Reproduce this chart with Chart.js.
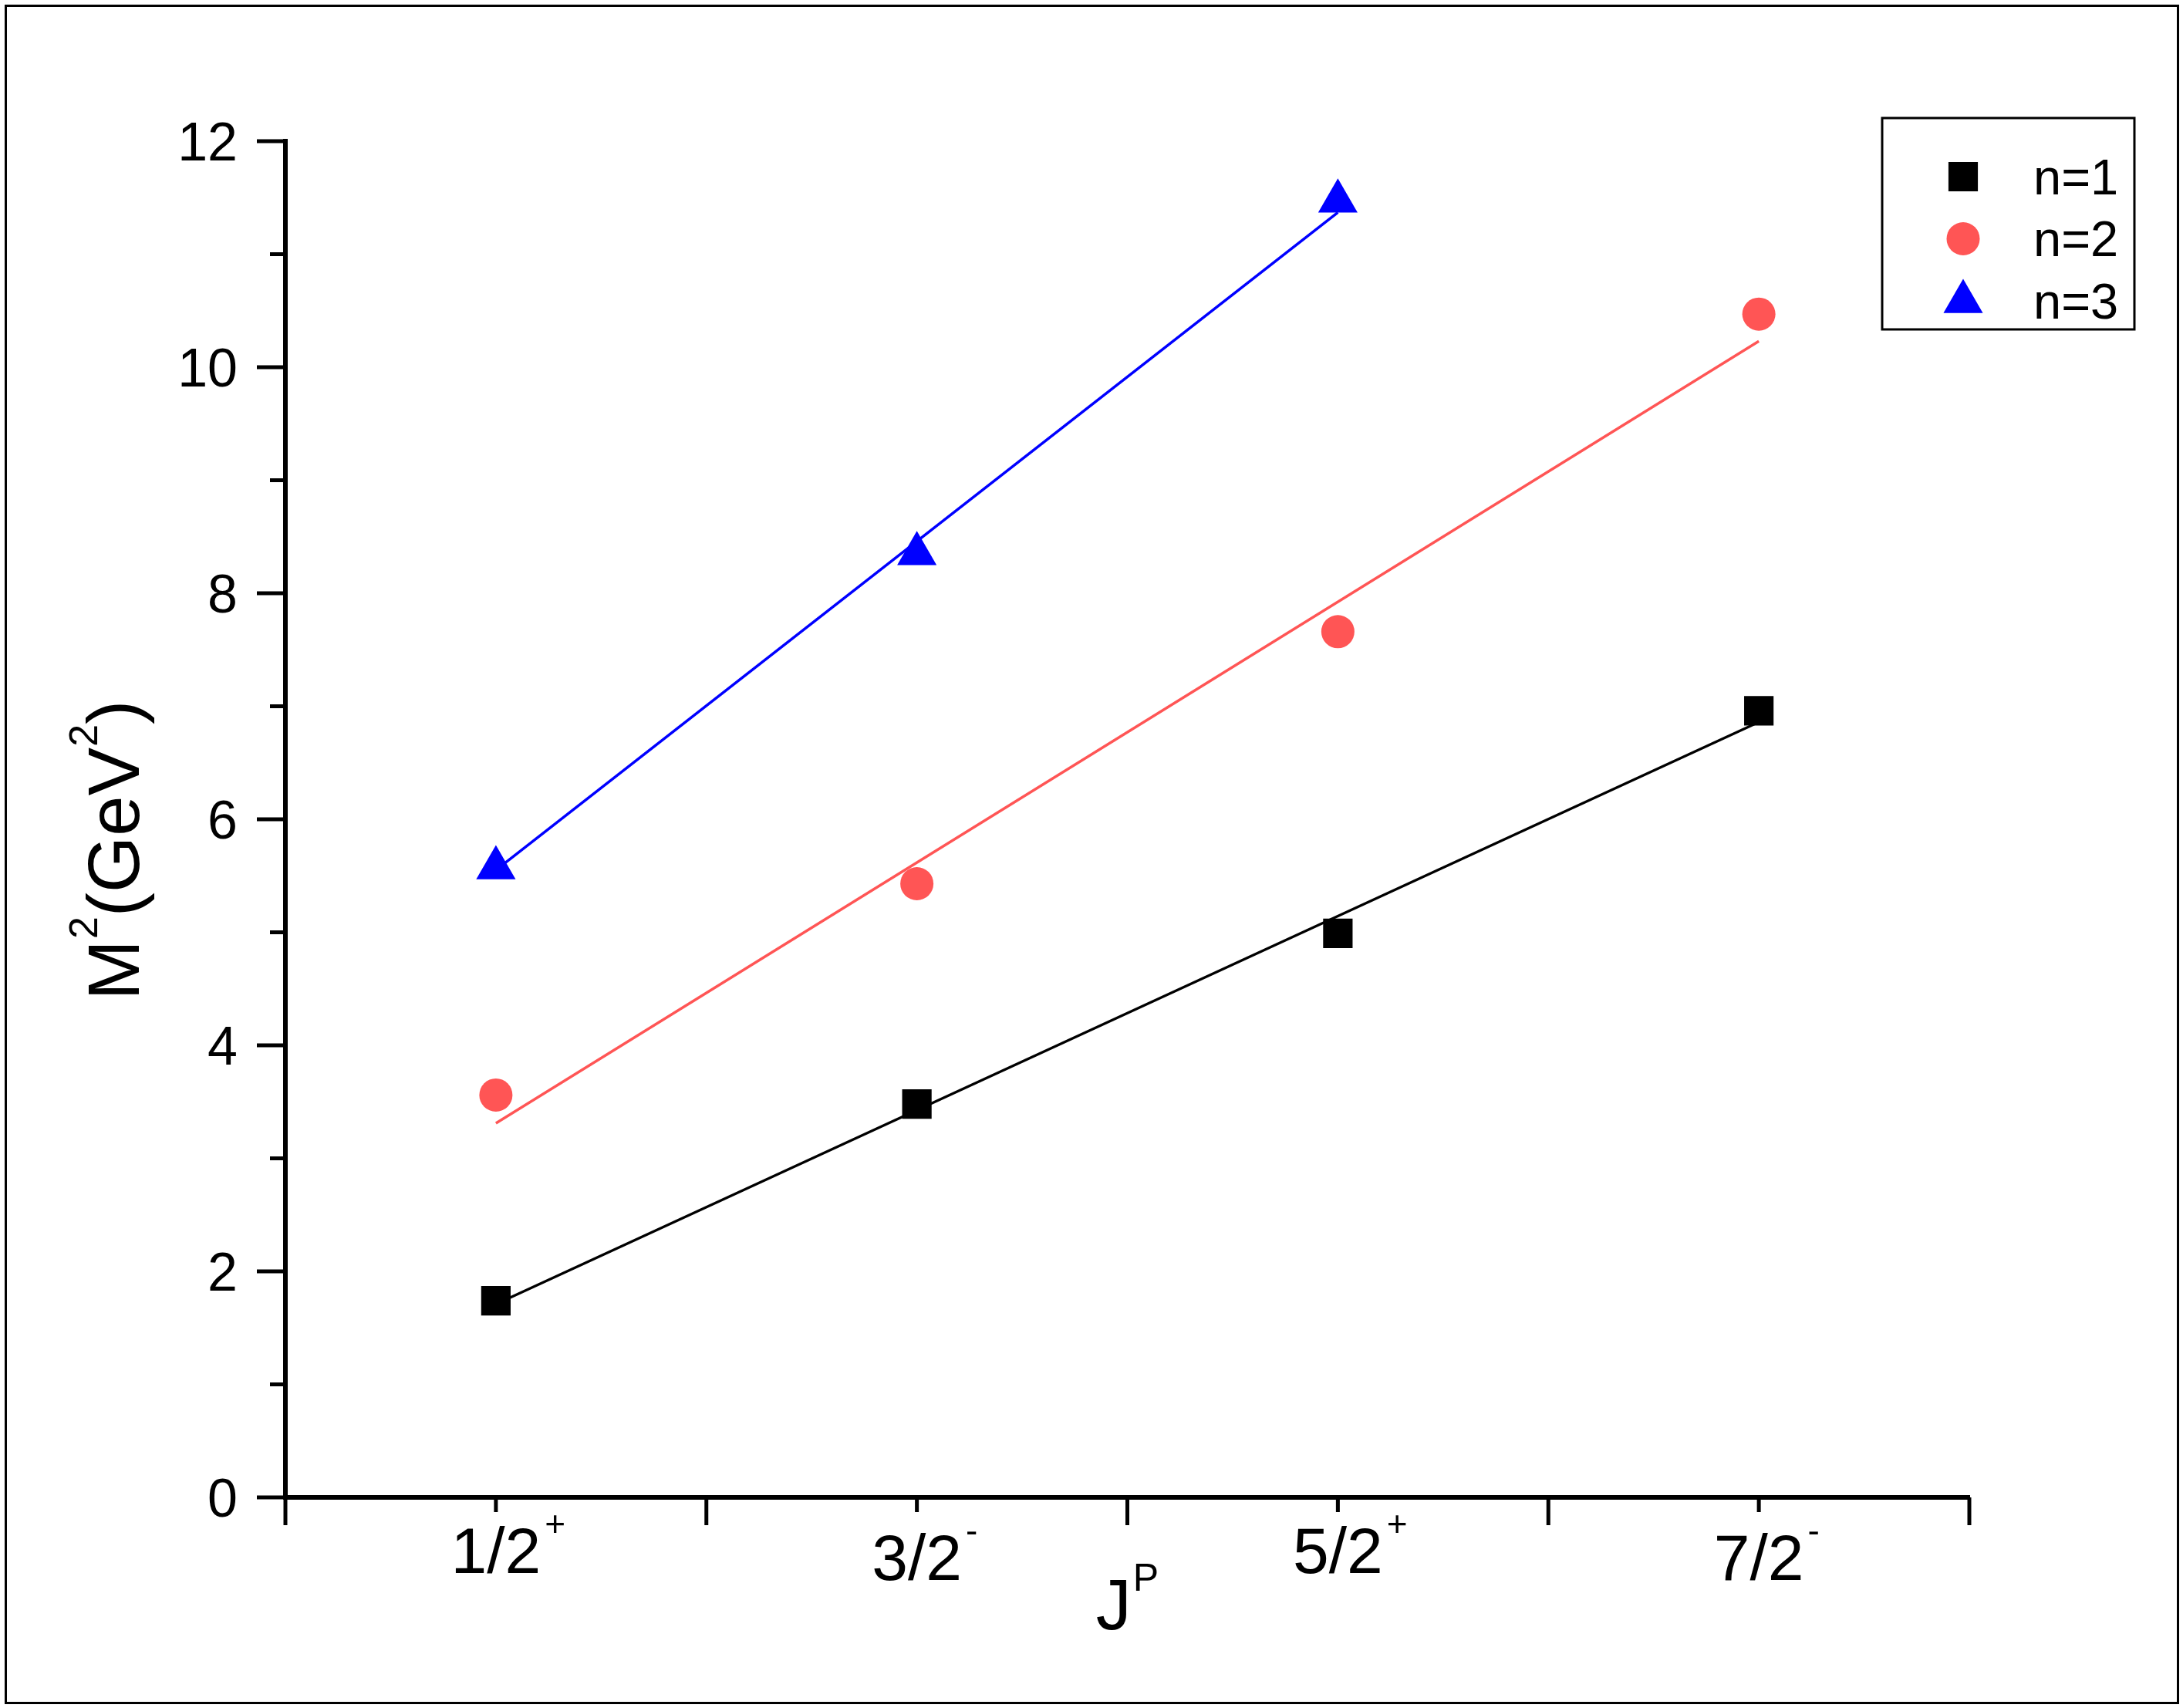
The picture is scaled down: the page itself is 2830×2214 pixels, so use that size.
<!DOCTYPE html>
<html>
<head>
<meta charset="utf-8">
<script src="https://cdn.jsdelivr.net/npm/chart.js@4.4.1/dist/chart.umd.min.js"></script>
<style>
html, body { margin: 0; padding: 0; background: #fff; }
#wrap { width: 2830px; height: 2214px; position: relative; }
</style>
</head>
<body>
<div id="wrap"><canvas id="regge"></canvas></div>
<script>
// J^P tick labels: spin part + parity superscript, at category positions
const spins = ['1/2', '3/2', '5/2', '7/2'];
const parities = ['+', '-', '+', '-'];
const jPos = [1, 2, 3, 4];

// M^2 in GeV^2
const n1 = [1.74, 3.48, 4.99, 6.96];
const n2 = [3.56, 5.43, 7.66, 10.47];
const n3 = [5.57, 8.35, 11.47];

// fitted straight lines (end points only)
const fit1X = [1, 4], fit1Y = [1.71, 6.86];
const fit2X = [1, 4], fit2Y = [3.31, 10.23];
const fit3X = [1, 3], fit3Y = [5.55, 11.37];

const yMajor = [0, 2, 4, 6, 8, 10, 12];
const yMinor = [1, 3, 5, 7, 9, 11];
const xMajor = [0.5, 1.5, 2.5, 3.5, 4.5];

const legendNames = ['n=1', 'n=2', 'n=3'];

const FONT = '"Liberation Sans", Arial, sans-serif';
const BLACK = '#000000', RED = '#FF5555', BLUE = '#0000FF';

const pts = (xs, ys) => ys.map((v, i) => ({ x: xs[i], y: v }));

const markers = [
    { pointStyle: 'rect', radius: 27, color: BLACK },
    { pointStyle: 'circle', radius: 21.5, color: RED },
    { pointStyle: 'triangle', radius: 29.5, color: BLUE }
];

function font(px) { return px + 'px ' + FONT; }

// base text followed by raised superscripts
function supText(ctx, parts, x, y) {
    let cx = x;
    parts.forEach(p => {
        ctx.font = font(p.size);
        ctx.fillText(p.text, cx, y - (p.raise || 0));
        cx += ctx.measureText(p.text).width + (p.gap || 0);
    });
}
function partsWidth(ctx, parts) {
    let w = 0;
    parts.forEach(p => {
        ctx.font = font(p.size);
        w += ctx.measureText(p.text).width + (p.gap || 0);
    });
    return w;
}

const whiteBg = {
    id: 'whiteBg',
    beforeDraw(chart) {
        const ctx = chart.ctx;
        ctx.save();
        ctx.fillStyle = '#fff';
        ctx.fillRect(0, 0, chart.width, chart.height);
        ctx.restore();
    }
};

const originAxes = {
    id: 'originAxes',
    afterDraw(chart) {
        const { ctx, chartArea: area, scales: { x, y } } = chart;
        ctx.save();
        ctx.strokeStyle = BLACK;
        ctx.fillStyle = BLACK;
        ctx.lineCap = 'butt';

        // ticks
        ctx.lineWidth = 5;
        ctx.beginPath();
        yMajor.forEach(v => {
            const py = y.getPixelForValue(v);
            ctx.moveTo(area.left - 37, py); ctx.lineTo(area.left, py);
        });
        yMinor.forEach(v => {
            const py = y.getPixelForValue(v);
            ctx.moveTo(area.left - 20, py); ctx.lineTo(area.left, py);
        });
        xMajor.forEach(v => {
            const px = x.getPixelForValue(v);
            ctx.moveTo(px, area.bottom); ctx.lineTo(px, area.bottom + 36);
        });
        jPos.forEach(v => {
            const px = x.getPixelForValue(v);
            ctx.moveTo(px, area.bottom); ctx.lineTo(px, area.bottom + 19);
        });
        ctx.stroke();

        // y tick labels
        ctx.textAlign = 'right';
        ctx.textBaseline = 'alphabetic';
        ctx.font = font(70);
        yMajor.forEach(v => {
            ctx.fillText(String(v), area.left - 62, y.getPixelForValue(v) + 25);
        });

        // x tick labels with parity superscripts
        ctx.textAlign = 'left';
        spins.forEach((s, i) => {
            const px = x.getPixelForValue(jPos[i]);
            ctx.font = font(84);
            const w = ctx.measureText(s).width;
            const base = area.bottom + (parities[i] === '+' ? 98 : 107);
            ctx.fillText(s, px - w / 2, base);
            ctx.font = font(46);
            ctx.fillText(parities[i], px + w / 2 + 5, base - 48);
        });

        // x title  J^P
        const xt = [{ text: 'J', size: 92, gap: 2 }, { text: 'P', size: 50, raise: 50 }];
        const cx = (area.left + area.right) / 2;
        supText(ctx, xt, cx - partsWidth(ctx, xt) / 2, area.bottom + 171);

        // y title  M^2(GeV^2)
        const yt = [
            { text: 'M', size: 94, gap: 1 }, { text: '2', size: 52, raise: 54 },
            { text: '(GeV', size: 94, gap: 1 }, { text: '2', size: 52, raise: 54 },
            { text: ')', size: 94 }
        ];
        ctx.save();
        ctx.translate(180, (area.top + area.bottom) / 2 + 40);
        ctx.rotate(-Math.PI / 2);
        supText(ctx, yt, -partsWidth(ctx, yt) / 2, 0);
        ctx.restore();

        // legend
        ctx.lineWidth = 3;
        ctx.strokeRect(2440, 153, 327, 274);
        const rows = [229, 309.5, 391];
        const textBase = [252, 332, 413];
        markers.forEach((m, i) => {
            ctx.fillStyle = m.color;
            Chart.helpers.drawPoint(ctx, { pointStyle: m.pointStyle, radius: m.radius, rotation: 0, borderWidth: 0 }, 2545, rows[i]);
        });
        ctx.fillStyle = BLACK;
        ctx.font = font(65);
        legendNames.forEach((t, i) => ctx.fillText(t, 2636, textBase[i]));

        // outer frame
        ctx.lineWidth = 3;
        ctx.strokeRect(7.5, 7.5, 2816, 2200);
        ctx.restore();
    }
};

const lineSet = (xs, ys, color) => ({
    data: pts(xs, ys), showLine: true, borderColor: color, borderWidth: 3.5,
    pointRadius: 0, fill: false, order: 2
});
const pointSet = (label, ys, m) => ({
    label, data: pts(jPos, ys), showLine: false, pointStyle: m.pointStyle,
    pointRadius: m.radius, pointHoverRadius: m.radius, backgroundColor: m.color,
    borderColor: m.color, pointBorderWidth: 0, order: 0
});

new Chart(document.getElementById('regge'), {
    type: 'scatter',
    data: {
        datasets: [
            pointSet('n=1', n1, markers[0]),
            pointSet('n=2', n2, markers[1]),
            pointSet('n=3', n3, markers[2]),
            lineSet(fit1X, fit1Y, BLACK),
            lineSet(fit2X, fit2Y, RED),
            lineSet(fit3X, fit3Y, BLUE)
        ]
    },
    options: {
        responsive: true,
        maintainAspectRatio: false,
        devicePixelRatio: 1,
        animation: false,
        layout: { padding: { left: 370, right: 277, top: 183, bottom: 273 } },
        plugins: { legend: { display: false }, tooltip: { enabled: false } },
        scales: {
            x: {
                type: 'linear', min: 0.5, max: 4.5,
                grid: { display: false, drawTicks: false },
                border: { display: true, color: BLACK, width: 6 },
                ticks: { display: false }
            },
            y: {
                type: 'linear', min: 0, max: 12,
                grid: { display: false, drawTicks: false },
                border: { display: true, color: BLACK, width: 6 },
                ticks: { display: false }
            }
        }
    },
    plugins: [whiteBg, originAxes]
});
</script>
</body>
</html>
